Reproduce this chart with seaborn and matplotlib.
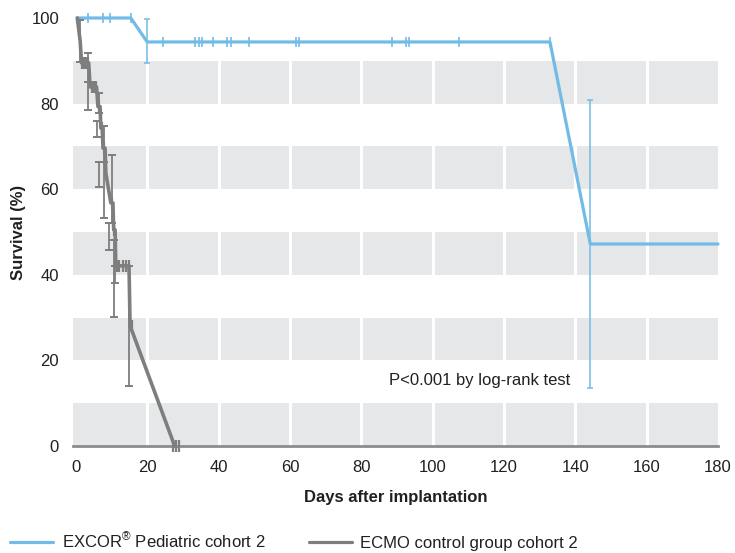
import matplotlib
matplotlib.use("Agg")
import matplotlib.pyplot as plt
import seaborn as sns
import pandas as pd
from matplotlib.lines import Line2D

# ---------------- data ----------------
x_ticks = [0, 20, 40, 60, 80, 100, 120, 140, 160, 180]
y_ticks = [0, 20, 40, 60, 80, 100]
band_starts = [0, 20, 40, 60, 80]

# EXCOR Pediatric cohort 2
blue_line_t = [0.4, 15.4, 20.0, 132.9, 144.2, 180.0]
blue_line_s = [100.0, 100.0, 94.4, 94.4, 47.2, 47.2]
blue_cens_t = [3.4, 7.5, 9.5, 15.4, 24.4, 33.5, 34.5, 35.4, 38.5, 42.5, 43.4,
               48.5, 61.7, 62.6, 88.7, 92.5, 93.4, 107.3, 132.9]
blue_cens_s = [100.0, 100.0, 100.0, 100.0, 94.4, 94.4, 94.4, 94.4, 94.4, 94.4,
               94.4, 94.4, 94.4, 94.4, 94.4, 94.4, 94.4, 94.4, 94.4]
blue_err_t = [20.0, 144.2]
blue_err_s = [94.4, 47.2]
blue_err_lo = [89.4, 13.6]
blue_err_hi = [99.7, 80.8]

# ECMO control group cohort 2
grey_line_t = [0.4, 1.2, 1.6, 3.6, 4.0, 5.8, 6.2, 6.8, 7.0, 7.4, 7.6, 8.2, 8.4,
               9.8, 10.4, 10.6, 11.0, 11.2, 14.9, 15.2, 27.7]
grey_line_s = [100.0, 94.7, 89.5, 89.5, 83.9, 83.9, 79.3, 79.3, 74.3, 74.3,
               69.6, 69.6, 63.8, 56.8, 56.8, 50.5, 50.5, 42.1, 42.1, 28.1, 0.0]
grey_cens_t = [1.6, 2.2, 2.8, 3.4, 4.4, 5.0, 5.6, 6.5, 7.2, 8.0, 10.1, 10.8,
               11.6, 12.1, 13.1, 14.0, 14.9, 15.6, 27.2, 28.0, 28.8]
grey_cens_s = [89.5, 89.5, 89.5, 89.5, 83.9, 83.9, 83.9, 79.3, 74.3, 69.6, 56.8, 50.5,
               42.1, 42.1, 42.1, 42.1, 42.1, 28.1, 0.0, 0.0, 0.0]
grey_err_t = [1.2, 3.5, 3.4, 6.4, 5.9, 7.8, 6.4, 7.8, 10.1, 9.2, 10.6, 11.0, 14.8]
grey_err_lo = [89.8, 85.0, 78.5, 77.7, 72.1, 66.4, 60.6, 53.2, 52.0, 45.8, 30.2, 38.0, 14.1]
grey_err_hi = [99.6, 91.8, 85.1, 82.4, 76.0, 74.8, 66.4, 66.4, 68.0, 52.0, 48.1, 42.1, 42.1]

label_blue = r"EXCOR$^{\circledR}$ Pediatric cohort 2"
label_grey = "ECMO control group cohort 2"
annotation = "P<0.001 by log-rank test"

# ---------------- style ----------------
sns.set_theme(style="white")
plt.rcParams["font.family"] = ["Liberation Sans", "DejaVu Sans"]
plt.rcParams["mathtext.fontset"] = "custom"
plt.rcParams["mathtext.rm"] = "Liberation Sans"
plt.rcParams["mathtext.it"] = "Liberation Sans:italic"
plt.rcParams["mathtext.bf"] = "Liberation Sans:bold"

BLUE = "#72BBE7"
GREY = "#7E7E7E"
TXT = "#231F20"
BAND = "#E6E7E8"
FS = 12

fig = plt.figure(figsize=(7.35, 5.53), dpi=100)
ax = fig.add_axes([73 / 735, 1 - 446 / 553, (718 - 73) / 735, (446 - 18) / 553])

# bands and white vertical separators
for b in band_starts:
    ax.axhspan(b, b + 10, color=BAND, lw=0, zorder=0)
for xv in x_ticks[1:-1]:
    ax.axvline(xv, color="white", lw=2.2, zorder=0.5)

# blue curve
df_blue = pd.DataFrame({"t": blue_line_t, "s": blue_line_s})
sns.lineplot(data=df_blue, x="t", y="s", estimator=None, sort=False,
             color=BLUE, lw=2.3, ax=ax, zorder=3)
ax.errorbar(blue_err_t, blue_err_s,
            yerr=[[s - l for s, l in zip(blue_err_s, blue_err_lo)],
                  [h - s for s, h in zip(blue_err_s, blue_err_hi)]],
            fmt="none", ecolor=BLUE, elinewidth=1.1, capsize=2.2, capthick=1.1, zorder=3)
ax.plot(blue_cens_t, blue_cens_s, ls="none", marker="|", ms=6.5, mew=1.2,
        color=BLUE, zorder=3)

# grey curve
df_grey = pd.DataFrame({"t": grey_line_t, "s": grey_line_s})
sns.lineplot(data=df_grey, x="t", y="s", estimator=None, sort=False,
             color=GREY, lw=2.6, ax=ax, zorder=4)
ax.errorbar(grey_err_t, [(l + h) / 2 for l, h in zip(grey_err_lo, grey_err_hi)],
            yerr=[[(h - l) / 2 for l, h in zip(grey_err_lo, grey_err_hi)],
                  [(h - l) / 2 for l, h in zip(grey_err_lo, grey_err_hi)]],
            fmt="none", ecolor=GREY, elinewidth=1.3, capsize=3.0, capthick=1.4, zorder=4)
ax.plot(grey_cens_t, grey_cens_s, ls="none", marker="|", ms=8, mew=1.6,
        color=GREY, zorder=4)

for ln in ax.lines:
    ln.set_clip_on(False)

ax.set_xlim(-0.8, 180)
ax.set_ylim(0, 100)
ax.set_xticks(x_ticks)
ax.set_yticks(y_ticks)
ax.tick_params(axis="both", length=0, labelsize=FS, colors=TXT)
ax.tick_params(axis="x", pad=10)
ax.tick_params(axis="y", pad=10)
for side in ["top", "right", "left"]:
    ax.spines[side].set_visible(False)
ax.spines["bottom"].set_color("#8C8C8C")
ax.spines["bottom"].set_linewidth(2)
ax.spines["bottom"].set_zorder(2)

ax.set_xlabel("Days after implantation", fontsize=FS, fontweight="bold", color=TXT, labelpad=11)
ax.set_ylabel("Survival (%)", fontsize=FS, fontweight="bold", color=TXT, labelpad=4)

ax.text(113.3, 15.2, annotation, fontsize=FS, color=TXT, ha="center", va="center")

# legend
handles = [Line2D([], [], color=BLUE, lw=2.3), Line2D([], [], color=GREY, lw=2.3)]
fig.legend(handles, [label_blue, label_grey], loc="center left",
           bbox_to_anchor=(10 / 735, 1 - 541 / 553), ncol=2, frameon=False,
           fontsize=FS, borderpad=0, borderaxespad=0, handlelength=2.6,
           handletextpad=0.5, columnspacing=2.6, labelcolor=TXT)

fig.savefig("out.png", dpi=100)
